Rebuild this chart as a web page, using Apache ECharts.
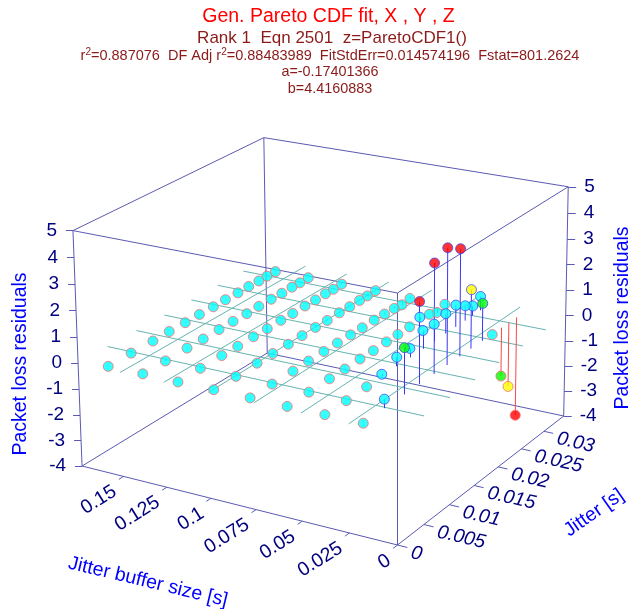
<!DOCTYPE html>
<html><head><meta charset="utf-8">
<style>html,body{margin:0;padding:0;background:#fff}#c{width:643px;height:609px}</style>
<script src="https://cdn.jsdelivr.net/npm/echarts@6/dist/echarts.min.js"></script>
</head><body><div id="c"></div>
<script>
// ---- data ----
const bufferValues = [0.16,0.14,0.12,0.10,0.08,0.06,0.04,0.02];
const jitterValues = [0.0009,0.0048,0.0086,0.0115,0.0144,0.017,0.0196,0.0219,0.0243,0.0264,0.0284,0.03,0.0317];
// residuals: one row per jitter value, one column per buffer value
const residuals = [
 [-0.03,-0.02,-0.03,-0.02,-0.02,-0.03,-0.02,-0.02],
 [-0.02,-0.03,-0.02,-0.03,-0.02,-0.02,-0.03, 0.33],
 [-0.03,-0.02,-0.02,-0.02,-0.03,-0.02,-0.02, 1.72],
 [-0.02,-0.03,-0.03,-0.02,-0.02,-0.03, 0.07, 3.05],
 [-0.03,-0.02,-0.02,-0.03,-0.02,-0.02, 0.34, 4.12],
 [-0.02,-0.02,-0.03,-0.02,-0.02,-0.03, 0.34, 4.38],
 [-0.03,-0.03,-0.02,-0.02,-0.03,-0.02, 0.70, 4.05],
 [-0.02,-0.02,-0.03,-0.03,-0.04,-0.02, 0.66, 2.25],
 [-0.03,-0.02,-0.02,-0.02,-0.03,-0.02, 0.77, 1.44],
 [-0.02,-0.03,-0.03,-0.03,-0.05, 0.10, 0.85,-0.02],
 [-0.03,-0.02,-0.02,-0.02,-0.07,-0.03, 0.58,-1.90],
 [-0.02,-0.03,-0.03,-0.03,-0.12,-0.15, 0.38,-2.52],
 [-0.03,-0.02,-0.02,-0.02,-0.07,-0.03, 0.55,-3.90]
];
const bufferTicks = [0,0.025,0.05,0.075,0.1,0.125,0.15];
const bufferTickLabels = ['0','0.025','0.05','0.075','0.1','0.125','0.15'];
const jitterTicks = [0,0.005,0.01,0.015,0.02,0.025,0.03];
const jitterTickLabels = ['0','0.005','0.01','0.015','0.02','0.025','0.03'];
const zTicks = [-4,-3,-2,-1,0,1,2,3,4,5];
const bufferMax = 0.1745, jitterMax = 0.0345, zMin = -4, zMax = 5;

// ---- oblique perspective view of the 3-D box ----
function project(b, j, z) {
  const u = b / bufferMax, v = j / jitterMax, w = (z - zMin) / (zMax - zMin);
  const d = 1 + 0.0785*u + 0.1132*v - 0.03*w;
  return [(397.5 - 309*u + 230*v - 12*w) / d, (545 - 42.4*u - 81.9*v - 260.8*w) / d];
}
const seg = (a, b) => ({coords: [a, b]});

const boxLines = [];
[[0,0],[bufferMax,0],[0,jitterMax],[bufferMax,jitterMax]].forEach(([b,j]) => boxLines.push(seg(project(b,j,zMin), project(b,j,zMax))));
[zMin,zMax].forEach(z => {
  boxLines.push(seg(project(0,0,z), project(bufferMax,0,z)));
  boxLines.push(seg(project(0,0,z), project(0,jitterMax,z)));
  boxLines.push(seg(project(bufferMax,jitterMax,z), project(bufferMax,0,z)));
  boxLines.push(seg(project(bufferMax,jitterMax,z), project(0,jitterMax,z)));
});
const bufferText = [], jitterText = [], zText = [];
bufferTicks.forEach((t,i) => {
  const a = project(t,0,zMin), e = project(t,-0.0008,zMin);
  boxLines.push(seg(a,e));
  bufferText.push({p:[e[0]-4,e[1]+10.5], text:bufferTickLabels[i], rot:32, align:'right'});
});
jitterTicks.forEach((t,i) => {
  const a = project(0,t,zMin), e = project(-0.005,t,zMin);
  boxLines.push(seg(a,e));
  jitterText.push({p:[e[0]+4,e[1]+5], text:jitterTickLabels[i], rot:-13, align:'left'});
});
zTicks.forEach(t => {
  const l = project(bufferMax,0,t), r = project(0,jitterMax,t);
  boxLines.push(seg(l,[l[0]-7,l[1]]));
  boxLines.push(seg(r,[r[0]+8,r[1]]));
  zText.push({p:[l[0]-16,l[1]], text:String(t), rot:0, align:'right'});
  zText.push({p:[r[0]+16,r[1]], text:String(t), rot:0, align:'left'});
});
const meshLines = [];
bufferTicks.slice(1).forEach(t => meshLines.push(seg(project(t,0,0), project(t,jitterMax,0))));
jitterTicks.slice(1).forEach(t => meshLines.push(seg(project(0,t,0), project(bufferMax,t,0))));

const stemsUp = [], stemsDown = [], points = [];
for (let r = jitterValues.length - 1; r >= 0; r--) {
  for (let c = 0; c < bufferValues.length; c++) {
    const z = residuals[r][c], b = bufferValues[c], j = jitterValues[r];
    (z >= 0 ? stemsUp : stemsDown).push(seg(project(b,j,0), project(b,j,z)));
    const m = Math.abs(z);
    points.push({
      value: project(b,j,z),
      itemStyle: {
        color: m >= 3 ? '#ff0000' : m >= 2 ? '#ffff00' : m >= 1 ? '#00ff00' : '#00ffff',
        borderColor: z >= 0 ? '#4848f0' : '#f07070', borderWidth: 1
      }
    });
  }
}
const axisTitles = [
  {p:[21,364], text:'Packet loss residuals', rot:90, align:'center'},
  {p:[623,318], text:'Packet loss residuals', rot:90, align:'center'},
  {p:[148,582], text:'Jitter buffer size [s]', rot:-13.5, align:'center'},
  {p:[594,513], text:'Jitter [s]', rot:35, align:'center'}
];
const textSeries = (items, color, size, style) => ({
  type:'custom', coordinateSystem:'cartesian2d', silent:true, clip:false, z:5,
  data: items.map(t => t.p),
  renderItem(params, api) {
    const t = items[params.dataIndex], p = api.coord([api.value(0), api.value(1)]);
    return {type:'text', x:p[0], y:p[1], rotation:t.rot*Math.PI/180,
      style:{text:t.text, align:t.align, verticalAlign:'middle', fill:color,
             font:(style||'')+' '+size+'px "Liberation Sans", Arial, sans-serif'}};
  }
});
const lineSeries = (data, color, z) => ({
  type:'lines', coordinateSystem:'cartesian2d', silent:true, z, data,
  lineStyle:{color, width:1, opacity:1}, effect:{show:false}
});
const ttl = (text, top, left, size, color, rich) => ({
  text, top, left, textAlign:'center',
  textStyle:{color, fontSize:size, fontWeight:'normal', fontFamily:'"Liberation Sans", Arial, sans-serif', rich}
});
const dark = '#8b1a1a';
const sup = {n:{fontSize:14.5,color:dark,fontFamily:'"Liberation Sans"',verticalAlign:'bottom'},
             s:{fontSize:10,color:dark,fontFamily:'"Liberation Sans"',verticalAlign:'top',padding:[0,0,6,0]}};
const chart = echarts.init(document.getElementById('c'), null, {renderer:'canvas'});
chart.setOption({
  animation:false, backgroundColor:'#fff',
  title:[
    ttl('Gen. Pareto CDF fit, X , Y , Z', 2, 323.5, 19.5, '#ff0000'),
    ttl('Rank 1  Eqn 2501  z=ParetoCDF1()', 25, 327, 17, dark),
    ttl('{n|r}{s|2}{n|=0.887076  DF Adj r}{s|2}{n|=0.88483989  FitStdErr=0.014574196  Fstat=801.2624}', 42, 325, 14.5, dark, sup),
    ttl('a=-0.17401366', 60, 325, 14.4, dark),
    ttl('b=4.4160883', 77, 325, 14.4, dark)
  ],
  grid:{left:0,right:0,top:0,bottom:0},
  xAxis:{type:'value',min:0,max:643,show:false},
  yAxis:{type:'value',min:0,max:609,inverse:true,show:false},
  series:[
    lineSeries(boxLines,'#5a5ab4',1),
    lineSeries(meshLines,'#66b4b0',2),
    lineSeries(stemsUp,'#3838f8',3),
    lineSeries(stemsDown,'#f84848',3),
    {type:'scatter',coordinateSystem:'cartesian2d',silent:true,z:4,symbol:'circle',symbolSize:10,data:points,clip:false},
    textSeries(bufferText,'#000080',19.5),
    textSeries(jitterText,'#000080',19.5,'italic'),
    textSeries(zText,'#000080',19),
    textSeries(axisTitles,'#0000ff',19.5)
  ]
});
</script></body></html>
